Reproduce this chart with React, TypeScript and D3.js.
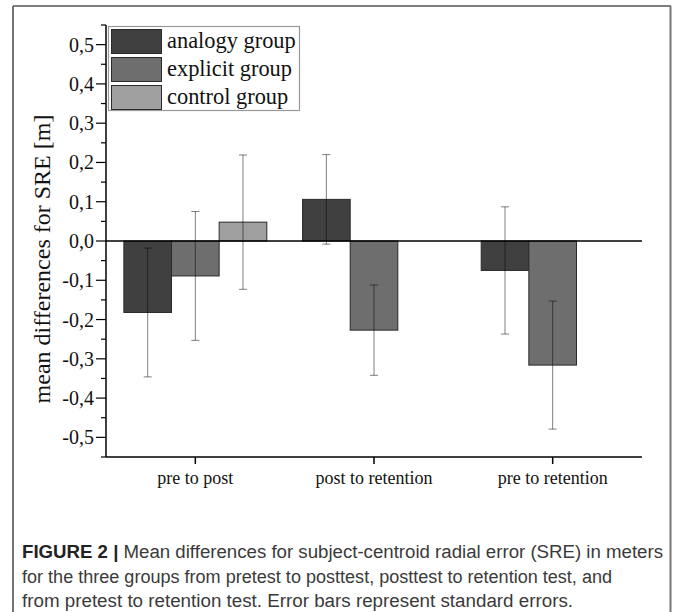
import { useEffect, useRef } from "react";
import * as d3 from "d3";

const categories = ["pre to post", "post to retention", "pre to retention"];
const groups = ["analogy group", "explicit group", "control group"];
const analogyMeans = [-0.182, 0.106, -0.075];
const explicitMeans = [-0.089, -0.227, -0.316];
const controlMeans = [0.048, null, null];
const analogySE = [0.164, 0.114, 0.162];
const explicitSE = [0.164, 0.115, 0.163];
const controlSE = [0.171, null, null];
const yTicks = [-0.5, -0.4, -0.3, -0.2, -0.1, 0, 0.1, 0.2, 0.3, 0.4, 0.5];
const groupColors = ["#404040", "#6e6e6e", "#a0a0a0"];

const captionLines = [
  "Mean differences for subject-centroid radial error (SRE) in meters",
  "for the three groups from pretest to posttest, posttest to retention test, and",
  "from pretest to retention test. Error bars represent standard errors.",
];

export default function App() {
  const ref = useRef<SVGSVGElement>(null);

  useEffect(() => {
    const svg = d3.select(ref.current);
    svg.selectAll("*").remove();

    const serif = "'Liberation Serif', 'Times New Roman', serif";
    const sans = "'Liberation Sans', Arial, sans-serif";

    // frame
    svg.append("line").attr("x1", 13).attr("x2", 13).attr("y1", 6).attr("y2", 612)
      .attr("stroke", "#444").attr("stroke-width", 1.5);
    svg.append("line").attr("x1", 13).attr("x2", 671).attr("y1", 6).attr("y2", 6)
      .attr("stroke", "#555").attr("stroke-width", 1.5);
    svg.append("line").attr("x1", 670.5).attr("x2", 670.5).attr("y1", 6).attr("y2", 612)
      .attr("stroke", "#777").attr("stroke-width", 2);

    const left = 106, right = 642, top = 25, bottom = 457;
    const y = d3.scaleLinear().domain([-0.55, 0.55]).range([bottom, top]);
    const x = d3.scaleBand().domain(categories).range([left, right]).padding(0);
    const bw = x.bandwidth();
    const inner = d3.scaleBand().domain(groups).range([bw * 0.1, bw * 0.9]).padding(0);

    const series = [
      { name: groups[0], means: analogyMeans, se: analogySE, color: groupColors[0] },
      { name: groups[1], means: explicitMeans, se: explicitSE, color: groupColors[1] },
      { name: groups[2], means: controlMeans, se: controlSE, color: groupColors[2] },
    ];

    // bars
    series.forEach((s) => {
      s.means.forEach((m, i) => {
        if (m == null) return;
        const x0 = (x(categories[i]) as number) + (inner(s.name) as number);
        svg.append("rect")
          .attr("x", x0)
          .attr("y", Math.min(y(m), y(0)))
          .attr("width", inner.bandwidth())
          .attr("height", Math.abs(y(m) - y(0)))
          .attr("fill", s.color)
          .attr("stroke", "#2a2a2a")
          .attr("stroke-width", 1);
      });
    });

    // zero line
    svg.append("line").attr("x1", left).attr("x2", right).attr("y1", y(0)).attr("y2", y(0))
      .attr("stroke", "#000").attr("stroke-width", 1.5);

    // error bars (semi-transparent black: gray on white, darker over bars)
    series.forEach((s) => {
      s.means.forEach((m, i) => {
        const e = s.se[i];
        if (m == null || e == null) return;
        const cx = (x(categories[i]) as number) + (inner(s.name) as number) + inner.bandwidth() / 2;
        const g = svg.append("g").attr("stroke", "#000").attr("stroke-opacity", 0.5).attr("stroke-width", 1);
        g.append("line").attr("x1", cx).attr("x2", cx).attr("y1", y(m + e)).attr("y2", y(m - e));
        [m + e, m - e].forEach((v) => {
          g.append("line").attr("x1", cx - 4).attr("x2", cx + 4).attr("y1", y(v)).attr("y2", y(v));
        });
      });
    });

    // y axis
    svg.append("line").attr("x1", left).attr("x2", left).attr("y1", top).attr("y2", bottom)
      .attr("stroke", "#000").attr("stroke-width", 1.5);
    yTicks.forEach((t) => {
      svg.append("line").attr("x1", left - 10).attr("x2", left).attr("y1", y(t)).attr("y2", y(t))
        .attr("stroke", "#000").attr("stroke-width", 1.2);
      svg.append("text")
        .attr("x", left - 12).attr("y", y(t)).attr("dy", "0.35em")
        .attr("text-anchor", "end")
        .attr("font-family", serif).attr("font-size", 20).attr("fill", "#111")
        .text(d3.format(".1f")(t).replace(".", ",").replace("−", "-"));
    });
    yTicks.concat([0.6]).forEach((t) => {
      const v = t - 0.05;
      if (v < -0.55 || v > 0.55) return;
      svg.append("line").attr("x1", left - 5).attr("x2", left).attr("y1", y(v)).attr("y2", y(v))
        .attr("stroke", "#000").attr("stroke-width", 1.2);
    });

    svg.append("text")
      .attr("transform", `translate(50,${(top + bottom) / 2 + 18}) rotate(-90)`)
      .attr("text-anchor", "middle")
      .attr("font-family", serif).attr("font-size", 24).attr("fill", "#111")
      .text("mean differences for SRE [m]");

    // x axis
    svg.append("line").attr("x1", left).attr("x2", right).attr("y1", bottom).attr("y2", bottom)
      .attr("stroke", "#000").attr("stroke-width", 1.5);
    categories.forEach((c) => {
      const cx = (x(c) as number) + bw / 2;
      svg.append("line").attr("x1", cx).attr("x2", cx).attr("y1", bottom).attr("y2", bottom + 7)
        .attr("stroke", "#000").attr("stroke-width", 1.5);
      svg.append("text")
        .attr("x", cx).attr("y", 484)
        .attr("text-anchor", "middle")
        .attr("font-family", serif).attr("font-size", 18).attr("fill", "#111")
        .text(c);
    });

    // legend
    const lg = svg.append("g");
    lg.append("rect").attr("x", 108.5).attr("y", 26.5).attr("width", 191).attr("height", 84)
      .attr("fill", "#fff").attr("stroke", "#999").attr("stroke-width", 1.2);
    groups.forEach((gname, i) => {
      const yy = 29.5 + i * 28;
      lg.append("rect").attr("x", 111.5).attr("y", yy).attr("width", 50).attr("height", 24)
        .attr("fill", groupColors[i]).attr("stroke", "#2a2a2a").attr("stroke-width", 1);
      lg.append("text").attr("x", 167).attr("y", yy + 18.5)
        .attr("font-family", serif).attr("font-size", 22.4).attr("fill", "#111")
        .text(gname);
    });

    // caption
    const cap = svg.append("g").attr("font-family", sans).attr("font-size", 18).attr("fill", "#3a3a3a");
    const t1 = cap.append("text").attr("x", 22).attr("y", 558)
      .attr("textLength", 641).attr("lengthAdjust", "spacingAndGlyphs");
    t1.append("tspan").attr("font-weight", "bold").attr("fill", "#222").text("FIGURE 2 | ");
    t1.append("tspan").text(captionLines[0]);
    cap.append("text").attr("x", 22).attr("y", 583)
      .attr("textLength", 590).attr("lengthAdjust", "spacingAndGlyphs").text(captionLines[1]);
    cap.append("text").attr("x", 22).attr("y", 607)
      .attr("textLength", 551).attr("lengthAdjust", "spacingAndGlyphs").text(captionLines[2]);
  }, []);

  return (
    <svg
      ref={ref}
      width={675}
      height={612}
      style={{ position: "absolute", left: 0, top: 0, background: "#fff" }}
    />
  );
}
